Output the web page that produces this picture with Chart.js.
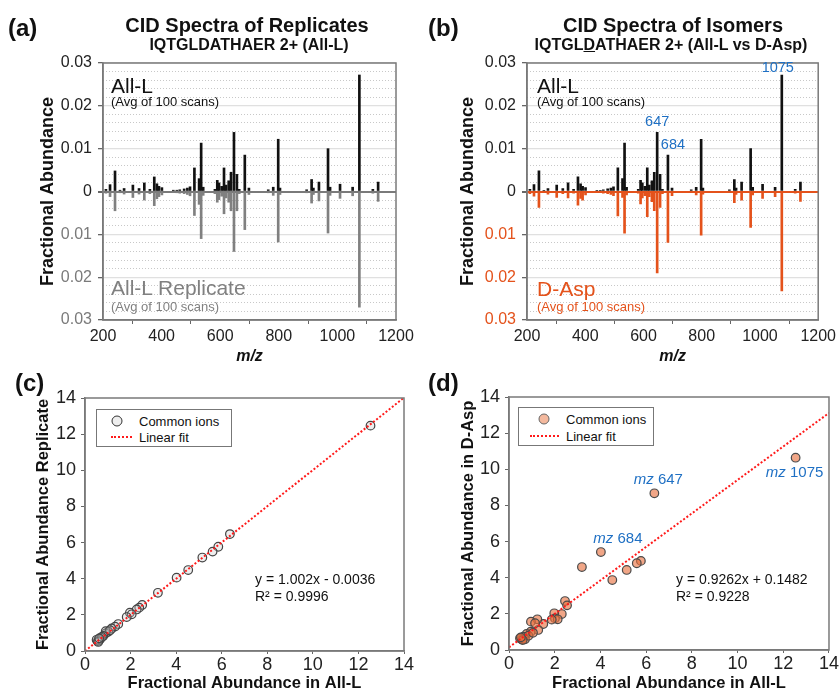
<!DOCTYPE html>
<html>
<head>
<meta charset="utf-8">
<script src="https://cdn.jsdelivr.net/npm/chart.js@4.4.1/dist/chart.umd.min.js"></script>
<style>
  body { margin: 0; background: #fff; font-family: "Liberation Sans", Arial, sans-serif; }
  #page { position: relative; width: 839px; height: 694px; overflow: hidden; }
  canvas { position: absolute; }
  .t { position: absolute; white-space: nowrap; line-height: 1; color: #111; }
  .c { transform: translate(-50%, -50%); }
  .l { transform: translateY(-50%); }
  .b { font-weight: bold; }
  .legend { position: absolute; border: 1.5px solid #777; background: #fff; box-sizing: border-box; font-size: 13px; color: #111; }
  .dot { position: absolute; width: 9px; height: 9px; border-radius: 50%; border: 1.5px solid #333; transform: translate(-50%, -50%); }
  .dash { position: absolute; height: 0; border-top: 2.5px dotted #ff1a1a; transform: translateY(-50%); }
</style>
</head>
<body>
<div id="page">
  <canvas id="specA" width="420" height="372" style="left:0;top:0"></canvas>
  <canvas id="specB" width="419" height="372" style="left:420px;top:0"></canvas>
  <canvas id="scatC" width="420" height="349" style="left:0;top:345px"></canvas>
  <canvas id="scatD" width="419" height="349" style="left:420px;top:345px"></canvas>

  <div class="t l b" style="left:8px;top:28px;font-size:24px">(a)</div>
  <div class="t l b" style="left:428px;top:28px;font-size:24px">(b)</div>
  <div class="t l b" style="left:15px;top:383px;font-size:24px">(c)</div>
  <div class="t l b" style="left:428px;top:383px;font-size:24px">(d)</div>

  <div class="t c b" style="left:247px;top:25px;font-size:20px">CID Spectra of Replicates</div>
  <div class="t c b" style="left:249px;top:45px;font-size:16px">IQTGLDATHAER 2+ (All-L)</div>
  <div class="t c b" style="left:673px;top:25px;font-size:20px">CID Spectra of Isomers</div>
  <div class="t c b" style="left:671px;top:45px;font-size:16px">IQTGL<u>D</u>ATHAER 2+ (All-L vs D-Asp)</div>

  <div class="t l" style="left:111px;top:85px;font-size:21px">All-L</div>
  <div class="t l" style="left:111px;top:101px;font-size:13px">(Avg of 100 scans)</div>
  <div class="t l" style="left:111px;top:287px;font-size:21px;color:#808080">All-L Replicate</div>
  <div class="t l" style="left:111px;top:306px;font-size:13px;color:#808080">(Avg of 100 scans)</div>

  <div class="t l" style="left:537px;top:85px;font-size:21px">All-L</div>
  <div class="t l" style="left:537px;top:101px;font-size:13px">(Avg of 100 scans)</div>
  <div class="t l" style="left:537px;top:288px;font-size:21px;color:#e4521b">D-Asp</div>
  <div class="t l" style="left:537px;top:306px;font-size:13px;color:#e4521b">(Avg of 100 scans)</div>

  <div class="legend" style="left:96px;top:409px;width:136px;height:38px">
    <div class="dot" style="left:20px;top:11px;background:rgba(200,200,200,0.3)"></div>
    <div class="t l" style="left:42px;top:11px">Common ions</div>
    <div class="dash" style="left:14px;top:27px;width:21px"></div>
    <div class="t l" style="left:42px;top:27px">Linear fit</div>
  </div>
  <div class="legend" style="left:518px;top:407px;width:136px;height:39px">
    <div class="dot" style="left:25px;top:11px;background:#f4b99e;border-color:#666"></div>
    <div class="t l" style="left:47px;top:11px">Common ions</div>
    <div class="dash" style="left:11px;top:28px;width:29px"></div>
    <div class="t l" style="left:47px;top:28px">Linear fit</div>
  </div>

  <div class="t l" style="left:255px;top:579px;font-size:14px">y = 1.002x - 0.0036</div>
  <div class="t l" style="left:255px;top:596px;font-size:14px">R² = 0.9996</div>
  <div class="t l" style="left:676px;top:579px;font-size:14px">y = 0.9262x + 0.1482</div>
  <div class="t l" style="left:676px;top:596px;font-size:14px">R² = 0.9228</div>
</div>

<script>
// peaks (m/z) and fractional abundance
const mzPeaks = [210, 224, 241, 258, 272, 302, 323, 341, 360, 375, 384, 391, 401,
  440, 452, 462, 477, 488, 497, 512, 528, 535, 542, 582, 590, 596, 605, 613, 620,
  629, 637, 647, 657, 665, 684, 698, 764, 781, 798, 804, 895, 912, 918, 937, 968,
  975, 1009, 1052, 1075, 1121, 1139];
const allLAbund = [0.0005, 0.0016, 0.0048, 0.0003, 0.0007, 0.0015, 0.0007, 0.0020, 0.0005, 0.0034, 0.0018, 0.0012, 0.0009,
  0.0003, 0.0003, 0.0004, 0.0006, 0.0008, 0.0011, 0.0055, 0.0030, 0.0113, 0.0010, 0.0005, 0.0026, 0.0020, 0.0012, 0.0055, 0.0015,
  0.0025, 0.0045, 0.0138, 0.0040, 0.0005, 0.0085, 0.0008, 0.0004, 0.0010, 0.0122, 0.0008, 0.0004, 0.0028, 0.0008, 0.0022, 0.0100,
  0.0010, 0.0017, 0.0010, 0.0272, 0.0005, 0.0022];
const replicateAbund = [0.0004, 0.0012, 0.0045, 0.0003, 0.0006, 0.0014, 0.0006, 0.0020, 0.0005, 0.0033, 0.0017, 0.0012, 0.0008,
  0.0002, 0.0003, 0.0004, 0.0005, 0.0007, 0.0010, 0.0056, 0.0030, 0.0110, 0.0009, 0.0005, 0.0025, 0.0019, 0.0011, 0.0052, 0.0015,
  0.0025, 0.0045, 0.0140, 0.0045, 0.0005, 0.0089, 0.0007, 0.0003, 0.0009, 0.0118, 0.0007, 0.0003, 0.0027, 0.0007, 0.0022, 0.0097,
  0.0009, 0.0016, 0.0010, 0.0270, 0.0004, 0.0023];
const dAspAbund = [0.0005, 0.0011, 0.0037, 0.0003, 0.0006, 0.0014, 0.0005, 0.0015, 0.0004, 0.0032, 0.0016, 0.0020, 0.0008,
  0.0003, 0.0002, 0.0004, 0.0005, 0.0007, 0.0010, 0.0057, 0.0014, 0.0097, 0.0008, 0.0004, 0.0029, 0.0015, 0.0010, 0.0059, 0.0012,
  0.0024, 0.0045, 0.0190, 0.0037, 0.0005, 0.0119, 0.0010, 0.0003, 0.0008, 0.0102, 0.0006, 0.0003, 0.0026, 0.0007, 0.0020, 0.0084,
  0.0008, 0.0016, 0.0012, 0.0232, 0.0004, 0.0023];
const labelledPeaks = [647, 684, 1075];

// common ions, fractional abundance (scatter panels)
const repAllL = [12.53, 6.36, 5.85, 5.6, 5.15, 4.53, 4.02, 3.2, 2.51, 2.38, 2.27, 1.97, 2.05, 1.83, 1.46,
  1.32, 1.17, 1.02, 0.91, 0.91, 0.80, 0.70, 0.66, 0.61, 0.56, 0.51, 0.58, 1.1, 0.75, 0.62];
const repReplicate = [12.47, 6.47, 5.77, 5.5, 5.17, 4.48, 4.06, 3.22, 2.55, 2.40, 2.3, 2.12, 2.03, 1.88, 1.49,
  1.35, 1.25, 1.07, 0.98, 1.1, 0.83, 0.74, 0.65, 0.61, 0.55, 0.62, 0.5, 1.15, 0.78, 0.7];
const isoAllL = [12.54, 6.36, 4.02, 3.19, 5.77, 5.59, 5.15, 4.52, 2.45, 2.54, 2.31, 1.98, 2.01, 2.13, 1.87,
  1.5, 1.24, 0.96, 1.28, 1.14, 0.95, 0.77, 0.63, 0.55, 0.48, 0.7, 0.85, 1.05, 0.6, 0.52];
const isoDAsp = [10.64, 8.67, 5.42, 4.59, 4.93, 4.8, 4.43, 3.87, 2.71, 2.47, 1.99, 2.03, 1.75, 1.7, 1.68,
  1.44, 1.7, 1.57, 1.11, 1.48, 1.01, 0.89, 0.74, 0.59, 0.65, 0.59, 0.79, 0.95, 0.55, 0.7];
const isoLabels = ['1075', '647', '684'];   // first three points of the isomer set
const fitX = [0, 14];
const fitRep = [-0.0036, 14.02];
const fitIso = [0.1482, 13.115];

const FONT = '"Liberation Sans", Arial, sans-serif';
const ORANGE = '#e4521b';
const BLUE = '#1f70c4';

Chart.defaults.font.family = FONT;
Chart.defaults.color = '#111';

const framePlugin = {
    id: 'frame',
    afterDatasetsDraw(chart) {
        const a = chart.chartArea;
        const ctx = chart.ctx;
        ctx.save();
        ctx.strokeStyle = '#7a7a7a';
        ctx.lineWidth = 1.5;
        ctx.strokeRect(a.left, a.top, a.right - a.left, a.bottom - a.top);
        ctx.restore();
    }
};

function peakLabelPlugin(offsets) {
    return {
        id: 'peakLabels',
        afterDatasetsDraw(chart) {
            const ctx = chart.ctx;
            const xs = chart.scales.x, ys = chart.scales.y;
            ctx.save();
            ctx.fillStyle = BLUE;
            ctx.font = '14.5px ' + FONT;
            ctx.textAlign = 'center';
            ctx.textBaseline = 'bottom';
            labelledPeaks.forEach((mz, i) => {
                const idx = mzPeaks.indexOf(mz);
                const px = xs.getPixelForValue(mz) + offsets[i][0];
                const py = ys.getPixelForValue(allLAbund[idx]) + offsets[i][1];
                ctx.fillText(String(mz), px, py);
            });
            ctx.restore();
        }
    };
}

const pointLabelPlugin = {
    id: 'pointLabels',
    afterDatasetsDraw(chart) {
        const ctx = chart.ctx;
        const xs = chart.scales.x, ys = chart.scales.y;
        const offsets = [[-1, 15], [4, -13], [17, -13]];
        ctx.save();
        ctx.fillStyle = BLUE;
        ctx.textBaseline = 'middle';
        isoLabels.forEach((lab, i) => {
            const cx = xs.getPixelForValue(isoAllL[i]) + offsets[i][0];
            const cy = ys.getPixelForValue(isoDAsp[i]) + offsets[i][1];
            ctx.font = 'italic 15px ' + FONT;
            const w1 = ctx.measureText('mz ').width;
            ctx.font = '15px ' + FONT;
            const w2 = ctx.measureText(lab).width;
            const x0 = cx - (w1 + w2) / 2;
            ctx.textAlign = 'left';
            ctx.font = 'italic 15px ' + FONT;
            ctx.fillText('mz ', x0, cy);
            ctx.font = '15px ' + FONT;
            ctx.fillText(lab, x0 + w1, cy);
        });
        ctx.restore();
    }
};

function makeSpectrum(id, lowerValues, lowerColor, lowerTickColor, zeroColor, yWidth, padRight, extraPlugins) {
    const upper = mzPeaks.map((mz, i) => ({ x: mz, y: allLAbund[i] }));
    const lower = mzPeaks.map((mz, i) => ({ x: mz, y: -lowerValues[i] }));
    return new Chart(document.getElementById(id), {
        type: 'bar',
        data: {
            datasets: [
                { data: upper, backgroundColor: '#111', barThickness: 2, grouped: false, yAxisID: 'y' },
                { data: lower, backgroundColor: lowerColor, barThickness: 2, grouped: false, yAxisID: 'y' }
            ]
        },
        options: {
            responsive: false,
            animation: false,
            layout: { padding: { left: 0, top: 63, right: padRight, bottom: 0 } },
            plugins: { legend: { display: false }, tooltip: { enabled: false } },
            scales: {
                x: {
                    type: 'linear', min: 200, max: 1200, offset: false,
                    ticks: { stepSize: 200, padding: 3, font: { size: 16 }, color: '#222', callback: v => String(v) },
                    grid: { drawOnChartArea: false, tickLength: 4, tickColor: '#666' },
                    border: { color: '#7a7a7a', width: 1.5 },
                    title: { display: true, text: 'm/z', font: { size: 16, weight: 'bold', style: 'italic' }, padding: { top: 0, bottom: 6 } },
                    afterFit: s => { s.height = 52; }
                },
                y: {
                    min: -0.03, max: 0.03,
                    ticks: {
                        stepSize: 0.01, padding: 6, font: { size: 16 },
                        color: c => c.tick.value < 0 ? lowerTickColor : '#222',
                        callback: v => Math.abs(v) < 1e-9 ? '0' : Math.abs(v).toFixed(2)
                    },
                    grid: {
                        color: c => Math.abs(c.tick.value) < 1e-9 ? zeroColor : '#e0e0e0',
                        lineWidth: c => Math.abs(c.tick.value) < 1e-9 ? 2 : 1.3,
                        tickLength: 5, tickColor: '#666'
                    },
                    border: { color: '#7a7a7a', width: 1.5 },
                    title: { display: true, text: 'Fractional Abundance', font: { size: 18, weight: 'bold' }, padding: { top: 37, bottom: 0 } },
                    afterFit: s => { s.width = yWidth; }
                },
                yMinor: {
                    position: 'left', min: -0.03, max: 0.03,
                    ticks: { stepSize: 0.002, display: false },
                    grid: {
                        drawTicks: false,
                        color: c => (Math.round(Math.abs(c.tick.value) * 500) % 5 === 0) ? 'rgba(0,0,0,0)' : '#c8c8c8',
                        lineWidth: 1
                    },
                    border: { display: false, dash: [1, 2] },
                    afterFit: s => { s.width = 0; }
                }
            }
        },
        plugins: [framePlugin].concat(extraPlugins)
    });
}

function makeScatter(id, xs, ys, fitY, fill, border, xTitle, yTitle, yWidth, yTitlePad, padTop, padRight, xHeight, extraPlugins) {
    return new Chart(document.getElementById(id), {
        type: 'scatter',
        data: {
            datasets: [
                {
                    type: 'line', data: fitX.map((x, i) => ({ x: x, y: fitY[i] })),
                    borderColor: '#ff1a1a', borderDash: [2, 2], borderWidth: 2, pointRadius: 0, fill: false, order: 0
                },
                {
                    data: xs.map((x, i) => ({ x: x, y: ys[i] })),
                    backgroundColor: fill, borderColor: border, borderWidth: 1.2, pointRadius: 4.3, order: 1
                }
            ]
        },
        options: {
            responsive: false,
            animation: false,
            layout: { padding: { left: 0, top: padTop, right: padRight, bottom: 0 } },
            plugins: { legend: { display: false }, tooltip: { enabled: false } },
            scales: {
                x: {
                    type: 'linear', min: 0, max: 14,
                    ticks: { stepSize: 2, padding: 0, font: { size: 18 }, color: '#222' },
                    grid: { drawOnChartArea: false, tickLength: 3, tickColor: '#666' },
                    border: { color: '#7a7a7a', width: 1.5 },
                    title: { display: true, text: xTitle, font: { size: 16.5, weight: 'bold' }, padding: { top: 0, bottom: 1 } },
                    afterFit: s => { s.height = xHeight; }
                },
                y: {
                    min: 0, max: 14,
                    ticks: { stepSize: 2, padding: 5, font: { size: 18 }, color: '#222' },
                    grid: { drawOnChartArea: false, tickLength: 4, tickColor: '#666' },
                    border: { color: '#7a7a7a', width: 1.5 },
                    title: { display: true, text: yTitle, font: { size: 16.5, weight: 'bold' }, padding: { top: yTitlePad, bottom: 0 } },
                    afterFit: s => { s.width = yWidth; }
                }
            }
        },
        plugins: [framePlugin].concat(extraPlugins)
    });
}

makeSpectrum('specA', replicateAbund, '#808080', '#7a7a7a', '#7a7a7a', 103, 24, []);
makeSpectrum('specB', dAspAbund, ORANGE, ORANGE, ORANGE, 107, 20,
    [peakLabelPlugin([[0, -3], [5, -3], [-4, 0]])]);

makeScatter('scatC', repAllL, repReplicate, fitRep, 'rgba(200,200,200,0.3)', '#444',
    'Fractional Abundance in All-L', 'Fractional Abundance Replicate', 85, 34, 53, 16, 43, []);
makeScatter('scatD', isoAllL, isoDAsp, fitIso, 'rgba(232,112,62,0.62)', '#4a4a4a',
    'Fractional Abundance in All-L', 'Fractional Abundance in D-Asp', 89, 39, 52, 10, 44, [pointLabelPlugin]);
</script>
</body>
</html>
